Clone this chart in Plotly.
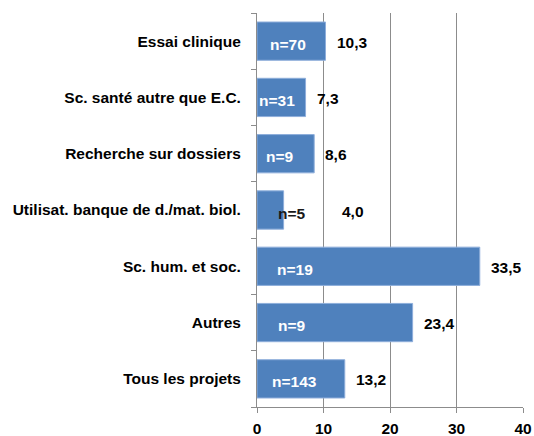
import plotly.graph_objects as go

categories = ["Essai clinique", "Sc. santé autre que E.C.", "Recherche sur dossiers",
              "Utilisat. banque de d./mat. biol.", "Sc. hum. et soc.", "Autres", "Tous les projets"]
values = [10.3, 7.3, 8.6, 4.0, 33.5, 23.4, 13.2]
counts = [70, 31, 9, 5, 19, 9, 143]
x_ticks = [0, 10, 20, 30, 40]

FONT = "Liberation Sans, Arial, sans-serif"
FS = 15.5
BAR = "#4F81BD"
GRID = "#8C8C8C"

# per-label horizontal nudges (pixels) to mimic the original placement
n_shift = [11, 0, 7, 19, 18, 19, 13]
n_color = ["white", "white", "white", "#1a1a1a", "white", "white", "white"]
v_shift = [9, 9, 9, 56, 9, 9, 9]

fig = go.Figure(go.Bar(
    x=values, y=categories, orientation="h",
    marker=dict(color=BAR, line=dict(color="#8EAEDB", width=1)),
    width=0.68, hoverinfo="skip",
))

for i, (c, v, n) in enumerate(zip(categories, values, counts)):
    fig.add_annotation(x=0, y=c, text=f"<b>n={n}</b>", showarrow=False,
                       xanchor="left", yanchor="middle", xshift=n_shift[i], yshift=-3,
                       font=dict(family=FONT, size=FS, color=n_color[i]))
    fig.add_annotation(x=v, y=c, text="<b>" + f"{v:.1f}".replace(".", ",") + "</b>",
                       showarrow=False, xanchor="left", yanchor="middle",
                       xshift=v_shift[i], yshift=-1,
                       font=dict(family=FONT, size=FS, color="black"))

fig.update_layout(
    width=534, height=436,
    margin=dict(l=257, r=11, t=13, b=29, autoexpand=False),
    paper_bgcolor="white", plot_bgcolor="white",
    showlegend=False,
    font=dict(family=FONT, size=FS, color="black"),
    xaxis=dict(range=[0, 40], tickvals=x_ticks,
               ticktext=[f"<b>{t}</b>" for t in x_ticks],
               showgrid=True, gridcolor=GRID, gridwidth=1,
               showline=True, linecolor=GRID, linewidth=1,
               ticks="outside", ticklen=5, tickcolor=GRID,
               ticklabelstandoff=2,
               zeroline=False, fixedrange=True, automargin=False),
    yaxis=dict(categoryorder="array", categoryarray=categories, autorange="reversed",
               tickvals=categories, ticktext=[f"<b>{c}</b>" for c in categories],
               showline=True, linecolor=GRID, linewidth=1,
               ticks="outside", ticklen=5, tickcolor=GRID, tickson="boundaries",
               ticklabelstandoff=12,
               showgrid=False, fixedrange=True, automargin=False),
)

fig.write_html("out.html", config={"displayModeBar": False},
               post_script="document.body.style.margin='0';document.body.style.overflow='hidden';")
